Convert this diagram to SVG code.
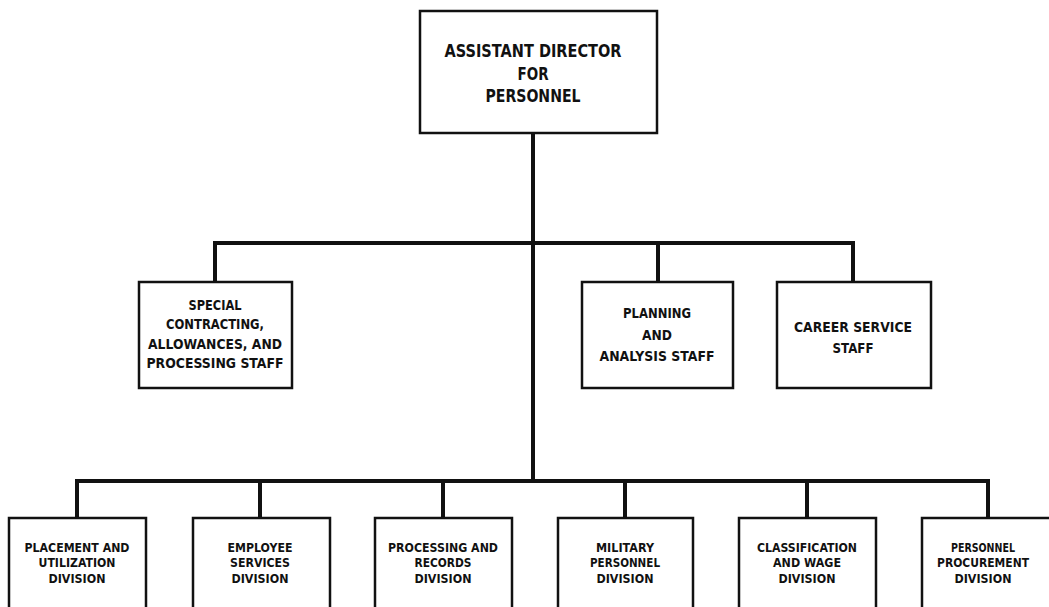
<svg xmlns="http://www.w3.org/2000/svg" width="1049" height="607" viewBox="0 0 1049 607">
<style>
.box{fill:#fff;stroke:#111;stroke-width:2.5}
.ln{stroke:#111;stroke-width:4;fill:none;stroke-linecap:square}
.t{font-family:"DejaVu Sans","Liberation Sans",sans-serif;font-weight:bold;fill:#111;text-anchor:middle}
.t1{font-size:18.5px}
.t2{font-size:14.5px}
.t3{font-size:11.5px}
</style>
<rect width="1049" height="607" fill="#fff"/>
<g id="connectors">
<path class="ln" d="M533 133 V481"/>
<path class="ln" d="M215 282 V243 H853 V282"/>
<path class="ln" d="M658 243 V282"/>
<path class="ln" d="M77 518 V481 H988 V518"/>
<path class="ln" d="M260 481 V518 M443 481 V518 M625 481 V518 M807 481 V518"/>
</g>
<g id="n-director">
<rect class="box" x="420" y="11" width="237" height="122"/>
<text class="t t1" x="533" y="57" textLength="177" lengthAdjust="spacingAndGlyphs">ASSISTANT DIRECTOR</text>
<text class="t t1" x="533" y="79.5" textLength="31" lengthAdjust="spacingAndGlyphs">FOR</text>
<text class="t t1" x="533" y="102" textLength="95" lengthAdjust="spacingAndGlyphs">PERSONNEL</text>
</g>
<g id="n-special">
<rect class="box" x="139" y="282" width="153" height="106"/>
<text class="t t2" x="215" y="310" textLength="53" lengthAdjust="spacingAndGlyphs">SPECIAL</text>
<text class="t t2" x="215" y="329" textLength="98" lengthAdjust="spacingAndGlyphs">CONTRACTING,</text>
<text class="t t2" x="215" y="349" textLength="134" lengthAdjust="spacingAndGlyphs">ALLOWANCES, AND</text>
<text class="t t2" x="215" y="368" textLength="137" lengthAdjust="spacingAndGlyphs">PROCESSING STAFF</text>
</g>
<g id="n-planning">
<rect class="box" x="582" y="282" width="151" height="106"/>
<text class="t t2" x="657" y="318" textLength="68" lengthAdjust="spacingAndGlyphs">PLANNING</text>
<text class="t t2" x="657" y="340" textLength="30" lengthAdjust="spacingAndGlyphs">AND</text>
<text class="t t2" x="657" y="361" textLength="115" lengthAdjust="spacingAndGlyphs">ANALYSIS STAFF</text>
</g>
<g id="n-career">
<rect class="box" x="777" y="282" width="154" height="106"/>
<text class="t t2" x="853" y="332" textLength="118" lengthAdjust="spacingAndGlyphs">CAREER SERVICE</text>
<text class="t t2" x="853" y="353" textLength="41" lengthAdjust="spacingAndGlyphs">STAFF</text>
</g>
<g id="n-placement">
<rect class="box" x="9" y="518" width="137" height="100"/>
<text class="t t3" x="77" y="552" textLength="105" lengthAdjust="spacingAndGlyphs">PLACEMENT AND</text>
<text class="t t3" x="77" y="567" textLength="77" lengthAdjust="spacingAndGlyphs">UTILIZATION</text>
<text class="t t3" x="77" y="583" textLength="57" lengthAdjust="spacingAndGlyphs">DIVISION</text>
</g>
<g id="n-employee">
<rect class="box" x="193" y="518" width="137" height="100"/>
<text class="t t3" x="260" y="552" textLength="65" lengthAdjust="spacingAndGlyphs">EMPLOYEE</text>
<text class="t t3" x="260" y="567" textLength="60" lengthAdjust="spacingAndGlyphs">SERVICES</text>
<text class="t t3" x="260" y="583" textLength="57" lengthAdjust="spacingAndGlyphs">DIVISION</text>
</g>
<g id="n-processing">
<rect class="box" x="375" y="518" width="137" height="100"/>
<text class="t t3" x="443" y="552" textLength="110" lengthAdjust="spacingAndGlyphs">PROCESSING AND</text>
<text class="t t3" x="443" y="567" textLength="57" lengthAdjust="spacingAndGlyphs">RECORDS</text>
<text class="t t3" x="443" y="583" textLength="57" lengthAdjust="spacingAndGlyphs">DIVISION</text>
</g>
<g id="n-military">
<rect class="box" x="558" y="518" width="135" height="100"/>
<text class="t t3" x="625" y="552" textLength="58" lengthAdjust="spacingAndGlyphs">MILITARY</text>
<text class="t t3" x="625" y="567" textLength="70" lengthAdjust="spacingAndGlyphs">PERSONNEL</text>
<text class="t t3" x="625" y="583" textLength="57" lengthAdjust="spacingAndGlyphs">DIVISION</text>
</g>
<g id="n-classification">
<rect class="box" x="739" y="518" width="137" height="100"/>
<text class="t t3" x="807" y="552" textLength="100" lengthAdjust="spacingAndGlyphs">CLASSIFICATION</text>
<text class="t t3" x="807" y="567" textLength="68" lengthAdjust="spacingAndGlyphs">AND WAGE</text>
<text class="t t3" x="807" y="583" textLength="57" lengthAdjust="spacingAndGlyphs">DIVISION</text>
</g>
<g id="n-procurement">
<rect class="box" x="922" y="518" width="137" height="100"/>
<text class="t t3" x="983" y="552" textLength="64" lengthAdjust="spacingAndGlyphs">PERSONNEL</text>
<text class="t t3" x="983" y="567" textLength="92" lengthAdjust="spacingAndGlyphs">PROCUREMENT</text>
<text class="t t3" x="983" y="583" textLength="57" lengthAdjust="spacingAndGlyphs">DIVISION</text>
</g>
</svg>
